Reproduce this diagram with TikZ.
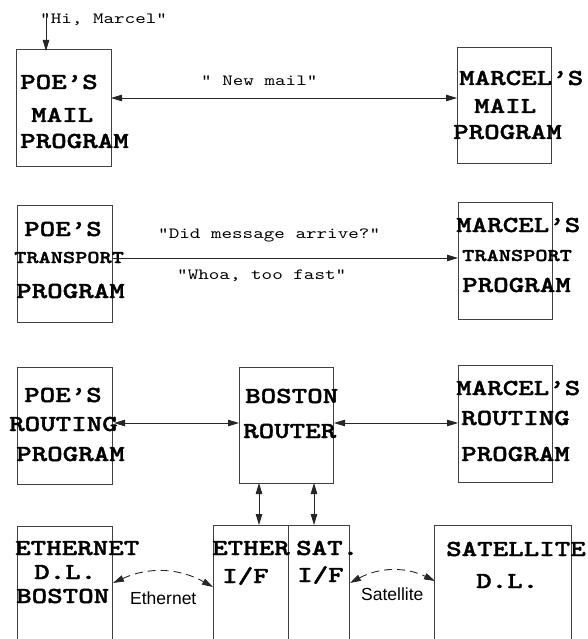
\documentclass[tikz,border=0pt]{standalone}
\usepackage{fontspec}
\setmainfont{Liberation Serif}
\setsansfont{Liberation Sans}
\newfontfamily\cbf{lmmonolt10-bold}[Extension=.otf,FakeStretch=1.29,FakeBold=1.6]
\newfontfamily\creg{lmmono10-regular}[Extension=.otf,FakeStretch=1.29]
\usetikzlibrary{arrows.meta,calc}
\begin{document}
\begin{tikzpicture}[x=1pt,y=-1pt,
  box/.style={draw=black!75,line width=0.9pt,rectangle,inner sep=0pt,outer sep=0pt,anchor=north west},
  big/.style={font=\cbf\fontsize{22.9}{27}\selectfont,anchor=base west,inner sep=0pt},
  mid/.style={font=\cbf\fontsize{18}{22}\selectfont,anchor=base west,inner sep=0pt},
  quote/.style={font=\creg\fontsize{15.6}{19}\selectfont,anchor=base west,inner sep=0pt},
  sans/.style={font=\sffamily\fontsize{17.5}{21}\selectfont,anchor=base west,inner sep=0pt},
  link/.style={line width=0.9pt,draw=black!85},
  dlink/.style={link,dash pattern=on 8pt off 5pt},
  >={Triangle[length=11pt,width=6.5pt]}]
\useasboundingbox (0,0) rectangle (587,639);
\clip (0,0) rectangle (587,639);

% boxes
\node[box,minimum width=95pt,minimum height=117pt] (pm) at (16,49) {};
\node[box,minimum width=94pt,minimum height=116pt] (mm) at (457,47) {};
\node[box,minimum width=95pt,minimum height=117pt] (pt) at (17,205) {};
\node[box,minimum width=94pt,minimum height=117pt] (mt) at (458,202) {};
\node[box,minimum width=95pt,minimum height=117pt] (pr) at (17,367) {};
\node[box,minimum width=94pt,minimum height=116pt] (br) at (239,367) {};
\node[box,minimum width=94pt,minimum height=117pt] (mr) at (458,365) {};
\node[box,minimum width=95pt,minimum height=140pt] (ed) at (17,526) {};
\node[box,minimum width=136pt,minimum height=140pt] (es) at (213,525) {};
\node[box,minimum width=137pt,minimum height=140pt] (sd) at (434,525) {};
\draw[draw=black!75,line width=0.9pt] ($(es.north west)+(75,0)$) -- ($(es.south west)+(75,0)$);

% box texts
\node[big] (pm1) at (20,89) {POE’S};
\node[big] (pm2) at (31,122) {MAIL};
\node[big] (pm3) at (20,148) {PROGRAM};
\node[big] (mm1) at (459,85) {MARCEL’S};
\node[big] (mm2) at (474,113) {MAIL};
\node[big] (mm3) at (453,139) {PROGRAM};

\node[big] (pt1) at (24,236) {POE’S};
\node[mid] (pt2) at (14,263) {TRANSPORT};
\node[big] (pt3) at (16,298) {PROGRAM};
\node[big] (mt1) at (456,232) {MARCEL’S};
\node[mid] (mt2) at (462,261) {TRANSPORT};
\node[big] (mt3) at (462,292) {PROGRAM};

\node[big] (pr1) at (24,402) {POE’S};
\node[big] (pr2) at (9,431) {ROUTING};
\node[big] (pr3) at (16,461) {PROGRAM};
\node[big] (br1) at (245,403) {BOSTON};
\node[big] (br2) at (243,438) {ROUTER};
\node[big] (mr1) at (456,395) {MARCEL’S};
\node[big] (mr2) at (461,425) {ROUTING};
\node[big] (mr3) at (461,461) {PROGRAM};

\node[big] (ed1) at (15,555) {ETHERNET};
\node[big] (ed2) at (34,579) {D.L.};
\node[big] (ed3) at (16,603) {BOSTON};
\node[big] (es1) at (212,555) {ETHER};
\node[big] (es2) at (222,583) {I/F};
\node[big] (es3) at (296,555) {SAT.};
\node[big] (es4) at (297,582) {I/F};
\node[big] (sd1) at (446,556) {SATELLITE};
\node[big] (sd2) at (476,588) {D.L.};

% quotes
\node[quote] (hi) at (40,24) {"Hi, Marcel"};
\node[quote] (nm) at (201,86) {" New mail"};
\node[quote] (dm) at (158,238) {"Did message arrive?"};
\node[quote] (wh) at (177,279) {"Whoa, too fast"};
\node[sans] (eth) at (130,604) {Ethernet};
\node[sans] (sat) at (361,600) {Satellite};

% connectors
\coordinate (hitop) at (46,13);
\draw[link,->] (hitop) -- ($(pm.north west)+(30,2)$);
\draw[link,<->] ($(pm.north east)+(0,49)$) -- ($(mm.north west)+(0,51)$);
\draw[link,->] ($(pt.north east)+(1,53)$) -- ($(mt.north west)+(0,56)$);
\draw[link,<->] ($(pr.north east)+(2,56)$) -- ($(br.north west)+(0,56)$);
\draw[link,<->] ($(br.north east)+(1,56)$) -- ($(mr.north west)+(0,58)$);
\draw[link,<->] ($(br.south west)+(20,0)$) -- ($(es.north west)+(46,0)$);
\draw[link,<->] ($(br.south west)+(75,0)$) -- ($(es.north west)+(101,0)$);
\draw[dlink,<->] ($(ed.north east)+(1,57)$) to[bend left=27] ($(es.north west)+(0,62)$);
\draw[dlink,<->] ($(es.north east)+(1,58)$) to[bend left=27] ($(sd.north west)+(1,56)$);
\end{tikzpicture}
\end{document}
